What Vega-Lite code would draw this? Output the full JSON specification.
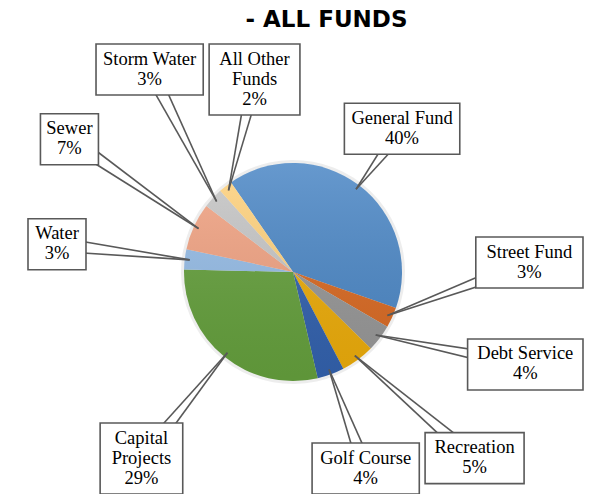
{
  "$schema": "https://vega.github.io/schema/vega-lite/v6.json",
  "width": 595,
  "height": 494,
  "padding": 0,
  "autosize": "none",
  "background": "white",
  "config": {"view": {"stroke": null}},
  "title": {"text": "- ALL FUNDS", "font": "DejaVu Sans", "fontSize": 23, "fontWeight": "bold", "color": "#000000", "anchor": "middle", "frame": "group", "dx": 29, "offset": -32},
  "data": {
    "values": [
      {"fund": "General Fund", "label": "General Fund", "value": 40},
      {"fund": "Street Fund", "label": "Street Fund", "value": 3},
      {"fund": "Debt Service", "label": "Debt Service", "value": 4},
      {"fund": "Recreation", "label": "Recreation", "value": 5},
      {"fund": "Golf Course", "label": "Golf Course", "value": 4},
      {"fund": "Capital Projects", "label": "Capital\nProjects", "value": 29},
      {"fund": "Water", "label": "Water", "value": 3},
      {"fund": "Sewer", "label": "Sewer", "value": 7},
      {"fund": "Storm Water", "label": "Storm Water", "value": 3},
      {"fund": "All Other Funds", "label": "All Other\nFunds", "value": 2}
    ]
  },
  "transform": [
    {"window": [{"op": "sum", "field": "value", "as": "c1"}], "frame": [null, 0]},
    {"joinaggregate": [{"op": "sum", "field": "value", "as": "total"}]},
    {"calculate": "datum.c1 - datum.value", "as": "c0"},
    {"calculate": "-34.7 + (datum.c0 + datum.value / 2) / datum.total * 360", "as": "mid"},
    {"calculate": "datum.mid < 180 ? 'R' : 'L'", "as": "side"},
    {"window": [{"op": "row_number", "as": "k"}], "groupby": ["side"], "sort": [{"field": "mid", "order": "ascending"}]},
    {"calculate": "datum.mid - (datum.k - 1) * 24", "as": "adj"},
    {"window": [{"op": "min", "field": "adj", "as": "sufmin"}], "groupby": ["side"], "sort": [{"field": "mid", "order": "ascending"}], "frame": [0, null]},
    {"window": [{"op": "max", "field": "adj", "as": "premax"}], "groupby": ["side"], "sort": [{"field": "mid", "order": "ascending"}], "frame": [null, 0]},
    {"calculate": "(datum.k - 1) * 24 + (datum.side === 'R' ? datum.sufmin : datum.premax)", "as": "la"},
    {"calculate": "split(datum.label, '\\n')", "as": "parts"},
    {"calculate": "length(datum.parts) + 1", "as": "n"},
    {"calculate": "max(length(datum.parts[0]), length(datum.parts) > 1 ? length(datum.parts[1]) : 0, 3)", "as": "maxlen"},
    {"calculate": "datum.label + '\\n' + datum.value + '%'", "as": "txt"},
    {"calculate": "datum.maxlen * 8.2 + 17", "as": "bw"},
    {"calculate": "datum.n * 20 + 11", "as": "bh"},
    {"calculate": "sin(datum.la * PI / 180)", "as": "s"},
    {"calculate": "cos(datum.la * PI / 180)", "as": "c"},
    {"calculate": "((datum.s >= 0 ? 290 : 265) - datum.bw / 2) / max(abs(datum.s), 0.000001)", "as": "tr"},
    {"calculate": "((datum.c >= 0 ? 228 : 222) - datum.bh / 2) / max(abs(datum.c), 0.000001)", "as": "tv"},
    {"calculate": "min(datum.tr, datum.tv, datum.s > 0 && datum.c > 0.5 ? 180 : 260)", "as": "t"},
    {"calculate": "datum.t * datum.s", "as": "bx"},
    {"calculate": "-datum.t * datum.c", "as": "by"},
    {"calculate": "datum.by - datum.n * 10", "as": "texty"},
    {"calculate": "104 * sin(datum.mid * PI / 180)", "as": "tx"},
    {"calculate": "-104 * cos(datum.mid * PI / 180)", "as": "ty"},
    {"calculate": "datum.bx - datum.bw / 2", "as": "rx0"},
    {"calculate": "datum.bx + datum.bw / 2", "as": "rx1"},
    {"calculate": "datum.by - datum.bh / 2", "as": "ry0"},
    {"calculate": "datum.by + datum.bh / 2", "as": "ry1"},
    {"calculate": "sqrt(pow(datum.bx - datum.tx, 2) + pow(datum.by - datum.ty, 2))", "as": "len"},
    {"calculate": "-(datum.by - datum.ty) / datum.len * 7", "as": "px"},
    {"calculate": "(datum.bx - datum.tx) / datum.len * 7", "as": "py"},
    {"calculate": "datum.bx + datum.px", "as": "wx1"},
    {"calculate": "datum.by + datum.py", "as": "wy1"},
    {"calculate": "datum.bx - datum.px", "as": "wx2"},
    {"calculate": "datum.by - datum.py", "as": "wy2"}
  ],
  "layer": [
    {
      "transform": [{"aggregate": [{"op": "min", "field": "c0", "as": "a0"}, {"op": "max", "field": "c1", "as": "a1"}]}],
      "mark": {"type": "arc", "radius": 112, "color": "#000000", "opacity": 0.07},
      "encoding": {
        "x": {"datum": 0, "type": "quantitative", "scale": {"domain": [-293, 302], "nice": false, "zero": false}, "axis": null},
        "y": {"datum": 0, "type": "quantitative", "scale": {"domain": [-272, 222], "nice": false, "zero": false, "reverse": true}, "axis": null},
        "theta": {"field": "a0", "type": "quantitative", "stack": null, "scale": {"domain": [0, 100], "range": [-0.6056, 5.6776]}},
        "theta2": {"field": "a1"}
      }
    },
    {
      "mark": {"type": "arc", "radius": 109},
      "encoding": {
        "x": {"datum": 0, "type": "quantitative"},
        "y": {"datum": 0, "type": "quantitative"},
        "theta": {"field": "c0", "type": "quantitative", "stack": null},
        "theta2": {"field": "c1"},
        "color": {
          "field": "fund",
          "type": "nominal",
          "legend": null,
          "scale": {
            "domain": ["General Fund", "Street Fund", "Debt Service", "Recreation", "Golf Course", "Capital Projects", "Water", "Sewer", "Storm Water", "All Other Funds"],
            "range": ["#4d88c6", "#d96a23", "#979797", "#ecac0a", "#3362ae", "#65a03d", "#95bce6", "#f1a383", "#c6c6c6", "#ffd27e"]
          }
        }
      }
    },
    {
      "transform": [{"aggregate": [{"op": "min", "field": "c0", "as": "a0"}, {"op": "max", "field": "c1", "as": "a1"}]}],
      "mark": {
        "type": "arc",
        "radius": 109,
        "fill": {"gradient": "linear", "x1": 0, "y1": 0, "x2": 0, "y2": 1, "stops": [{"offset": 0, "color": "rgba(255,255,255,0.14)"}, {"offset": 1, "color": "rgba(0,0,0,0.07)"}]}
      },
      "encoding": {
        "x": {"datum": 0, "type": "quantitative"},
        "y": {"datum": 0, "type": "quantitative"},
        "theta": {"field": "a0", "type": "quantitative", "stack": null},
        "theta2": {"field": "a1"}
      }
    },
    {
      "mark": {"type": "rule", "color": "#595959", "strokeWidth": 1.6},
      "encoding": {
        "x": {"field": "tx", "type": "quantitative"},
        "y": {"field": "ty", "type": "quantitative"},
        "x2": {"field": "wx1"},
        "y2": {"field": "wy1"}
      }
    },
    {
      "mark": {"type": "rule", "color": "#595959", "strokeWidth": 1.6},
      "encoding": {
        "x": {"field": "tx", "type": "quantitative"},
        "y": {"field": "ty", "type": "quantitative"},
        "x2": {"field": "wx2"},
        "y2": {"field": "wy2"}
      }
    },
    {
      "mark": {"type": "rect", "fill": "#ffffff", "stroke": "#595959", "strokeWidth": 1.6},
      "encoding": {
        "x": {"field": "rx0", "type": "quantitative"},
        "x2": {"field": "rx1"},
        "y": {"field": "ry0", "type": "quantitative"},
        "y2": {"field": "ry1"}
      }
    },
    {
      "mark": {"type": "text", "font": "Liberation Serif", "fontSize": 18.5, "lineHeight": 20, "lineBreak": "\n", "align": "center", "baseline": "line-top", "color": "#000000"},
      "encoding": {
        "x": {"field": "bx", "type": "quantitative"},
        "y": {"field": "texty", "type": "quantitative"},
        "text": {"field": "txt"}
      }
    }
  ]
}
